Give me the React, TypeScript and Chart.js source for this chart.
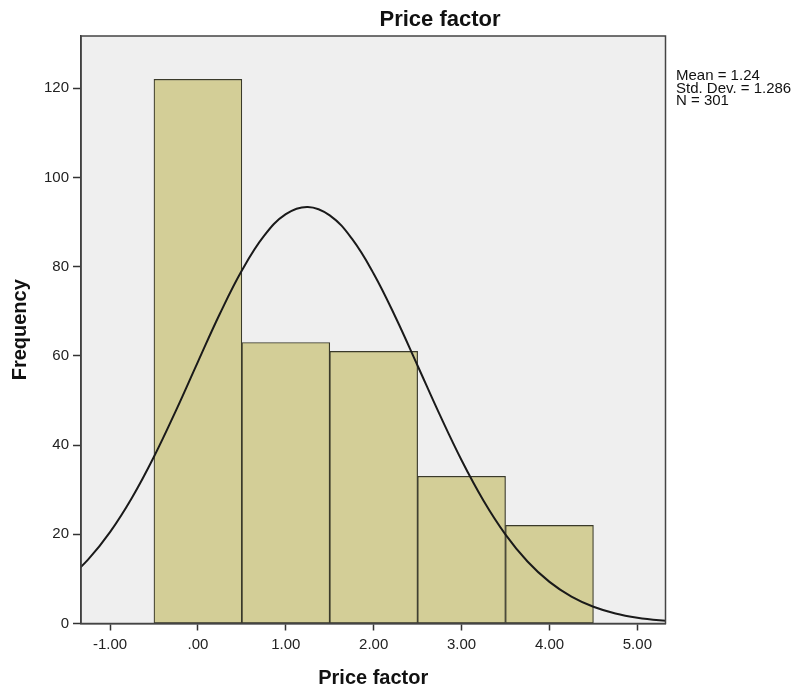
import React, { useEffect, useRef } from "react";
import { Chart, registerables } from "chart.js";

Chart.register(...registerables);

// Histogram bins (bin centres) and frequencies
const binCenters = [0, 1, 2, 3, 4];
const frequencies = [122, 63, 61, 33, 22];

// Normal curve (x, frequency)
const curveX = [-1.5, -1.25, -1.0, -0.75, -0.5, -0.25, 0, 0.25, 0.5, 0.75, 1.0, 1.25, 1.5, 1.75, 2.0, 2.25, 2.5, 2.75, 3.0, 3.25, 3.5, 3.75, 4.0, 4.25, 4.5, 4.75, 5.0, 5.25, 5.5];
const curveY = [9.65, 14.32, 20.49, 28.2, 37.39, 47.73, 58.66, 69.44, 79.13, 86.84, 91.76, 93.38, 91.49, 86.32, 78.42, 68.6, 57.78, 46.87, 36.6, 27.53, 19.94, 13.9, 9.33, 6.03, 3.76, 2.25, 1.3, 0.72, 0.39];

const xTicks = [-1, 0, 1, 2, 3, 4, 5];
const yTicks = [0, 20, 40, 60, 80, 100, 120];
const statsLines = ["Mean = 1.24", "Std. Dev. = 1.286", "N = 301"];
const chartTitle = "Price factor";
const xTitle = "Price factor";
const yTitle = "Frequency";

const FONT = "'Liberation Sans', Arial, sans-serif";

const framePlugin = {
  id: "frame",
  beforeDraw(chart: any) {
    const { ctx, chartArea } = chart;
    ctx.save();
    ctx.fillStyle = "#ffffff";
    ctx.fillRect(0, 0, chart.width, chart.height);
    ctx.fillStyle = "#EFEFEF";
    ctx.fillRect(chartArea.left, chartArea.top, chartArea.right - chartArea.left, chartArea.bottom - chartArea.top);
    ctx.restore();
  },
  afterDraw(chart: any) {
    const { ctx, chartArea } = chart;
    ctx.save();
    ctx.strokeStyle = "#444444";
    ctx.lineWidth = 1.5;
    ctx.strokeRect(chartArea.left, chartArea.top, chartArea.right - chartArea.left, chartArea.bottom - chartArea.top);
    // title
    ctx.fillStyle = "#111111";
    ctx.font = `bold 22px ${FONT}`;
    ctx.textAlign = "center";
    ctx.textBaseline = "alphabetic";
    ctx.fillText(chartTitle, 440, 26);
    // stats
    ctx.font = `15px ${FONT}`;
    ctx.textAlign = "left";
    statsLines.forEach((s, i) => ctx.fillText(s, 676, 80 + i * 12.7));
    ctx.restore();
  },
};

export default function App() {
  const ref = useRef<HTMLCanvasElement>(null);
  useEffect(() => {
    if (!ref.current) return;
    const chart = new Chart(ref.current, {
      type: "bar",
      data: {
        datasets: [
          {
            type: "line",
            data: curveX.map((x, i) => ({ x, y: curveY[i] })),
            borderColor: "#1a1a1a",
            borderWidth: 2,
            pointRadius: 0,
            tension: 0.4,
            fill: false,
            order: 0,
          } as any,
          {
            type: "bar",
            data: binCenters.map((x, i) => ({ x, y: frequencies[i] })),
            backgroundColor: "#D3CE97",
            borderColor: "#3a3a2a",
            borderWidth: 1.2,
            borderSkipped: false,
            barPercentage: 1,
            categoryPercentage: 1,
            grouped: false,
            order: 1,
          } as any,
        ],
      },
      plugins: [framePlugin],
      options: {
        animation: false,
        responsive: false,
        layout: { padding: { top: 36, right: 130.5, left: 0, bottom: 0 } },
        plugins: { legend: { display: false }, tooltip: { enabled: false }, title: { display: false } },
        scales: {
          x: {
            type: "linear",
            min: -1.33,
            max: 5.32,
            offset: false,
            afterBuildTicks: (s: any) => { s.ticks = xTicks.map((v) => ({ value: v })); },
            afterFit: (s: any) => { s.height = 68.5; },
            ticks: {
              color: "#222",
              font: { family: FONT, size: 15 },
              padding: 5,
              maxRotation: 0,
              callback: (v: any) => (Number(v) === 0 ? ".00" : Number(v).toFixed(2)),
            },
            grid: { drawOnChartArea: false, drawTicks: true, tickLength: 7, color: "#333", offset: false, tickWidth: 1.5 },
            border: { display: true, color: "#333", width: 1.5 },
            title: { display: true, text: xTitle, color: "#111", font: { family: FONT, size: 20, weight: "bold" }, padding: { top: 0, bottom: 2 } },
          },
          y: {
            type: "linear",
            min: 0,
            max: 131.7,
            afterBuildTicks: (s: any) => { s.ticks = yTicks.map((v) => ({ value: v })); },
            afterFit: (s: any) => { s.width = 81; },
            ticks: { color: "#222", font: { family: FONT, size: 15 }, padding: 4 },
            grid: { drawOnChartArea: false, drawTicks: true, tickLength: 8, color: "#333", tickWidth: 1.5 },
            border: { display: true, color: "#333", width: 1.5 },
            title: { display: true, text: yTitle, color: "#111", font: { family: FONT, size: 20, weight: "bold" }, padding: { top: 8, bottom: 0 } },
          },
        },
      } as any,
    });
    return () => chart.destroy();
  }, []);
  return (
    <div style={{ position: "fixed", left: 0, top: 0, width: 796, height: 692, background: "#fff" }}>
      <canvas ref={ref} width={796} height={692} style={{ width: 796, height: 692, display: "block" }} />
    </div>
  );
}
